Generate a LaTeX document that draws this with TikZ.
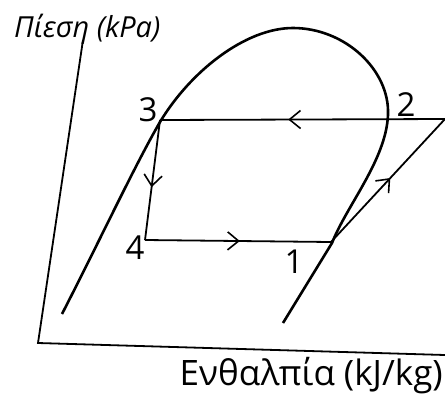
\documentclass[tikz,border=0pt]{standalone}
\usepackage{fontspec}
\setmainfont{Open Sans}
\usetikzlibrary{
  arrows.meta,
  decorations.markings
}
\tikzset{
  axisline/.style={line width=1.8pt,draw=black},
  domeline/.style={line width=2.6pt,draw=black,line join=round},
  cycleline/.style={line width=1.8pt,draw=black},
  midarrow/.style={postaction={decorate},decoration={markings,
    mark=at position #1 with {\arrow{Straight Barb[length=11pt,width=18pt,line width=1.6pt]}}}},
  pointlabel/.style={font=\fontsize{33}{38}\selectfont,inner sep=0pt},
  axislabel/.style={font=\fontsize{35}{40}\selectfont,inner sep=0pt}
}
\begin{document}
\begin{tikzpicture}[x=1pt,y=-1pt]
\useasboundingbox (0,0) rectangle (445,408);
% axes
\coordinate (ptop) at (83,40);
\coordinate (origin) at (38,343);
\coordinate (hend) at (445,355);
\draw[axisline] (ptop) -- (origin) -- (hend);
\node[axislabel,font=\fontsize{29}{34}\selectfont\itshape,anchor=base west] (plabel) at (14,37) {Πίεση (kPa)};
\node[axislabel,anchor=base east] (hlabel) at (443,385) {Ενθαλπία (kJ/kg)};
% saturation dome
\draw[domeline] (62,314) .. controls (100,240) and (135,165) .. (160,122)
  .. controls (190,72) and (245,28) .. (293,28)
  .. controls (345,28) and (390,70) .. (388,115)
  .. controls (386,160) and (347,205) .. (332,243) -- (283,323);
% cycle points
\coordinate (p1) at (331,242);
\coordinate (p2) at (445,119);
\coordinate (p3) at (160,120);
\coordinate (p4) at (145,240);
\draw[cycleline,midarrow=0.55] (p2) -- (p3);
\draw[cycleline,midarrow=0.56] (p3) -- (p4);
\draw[cycleline,midarrow=0.51] (p4) -- (p1);
\draw[cycleline,midarrow=0.52] (p1) -- (p2);
% labels
\node[pointlabel] (l1) at (294,262) {1};
\node[pointlabel] (l2) at (406,105) {2};
\node[pointlabel] (l3) at (148,110) {3};
\node[pointlabel] (l4) at (135,248) {4};
\end{tikzpicture}
\end{document}
